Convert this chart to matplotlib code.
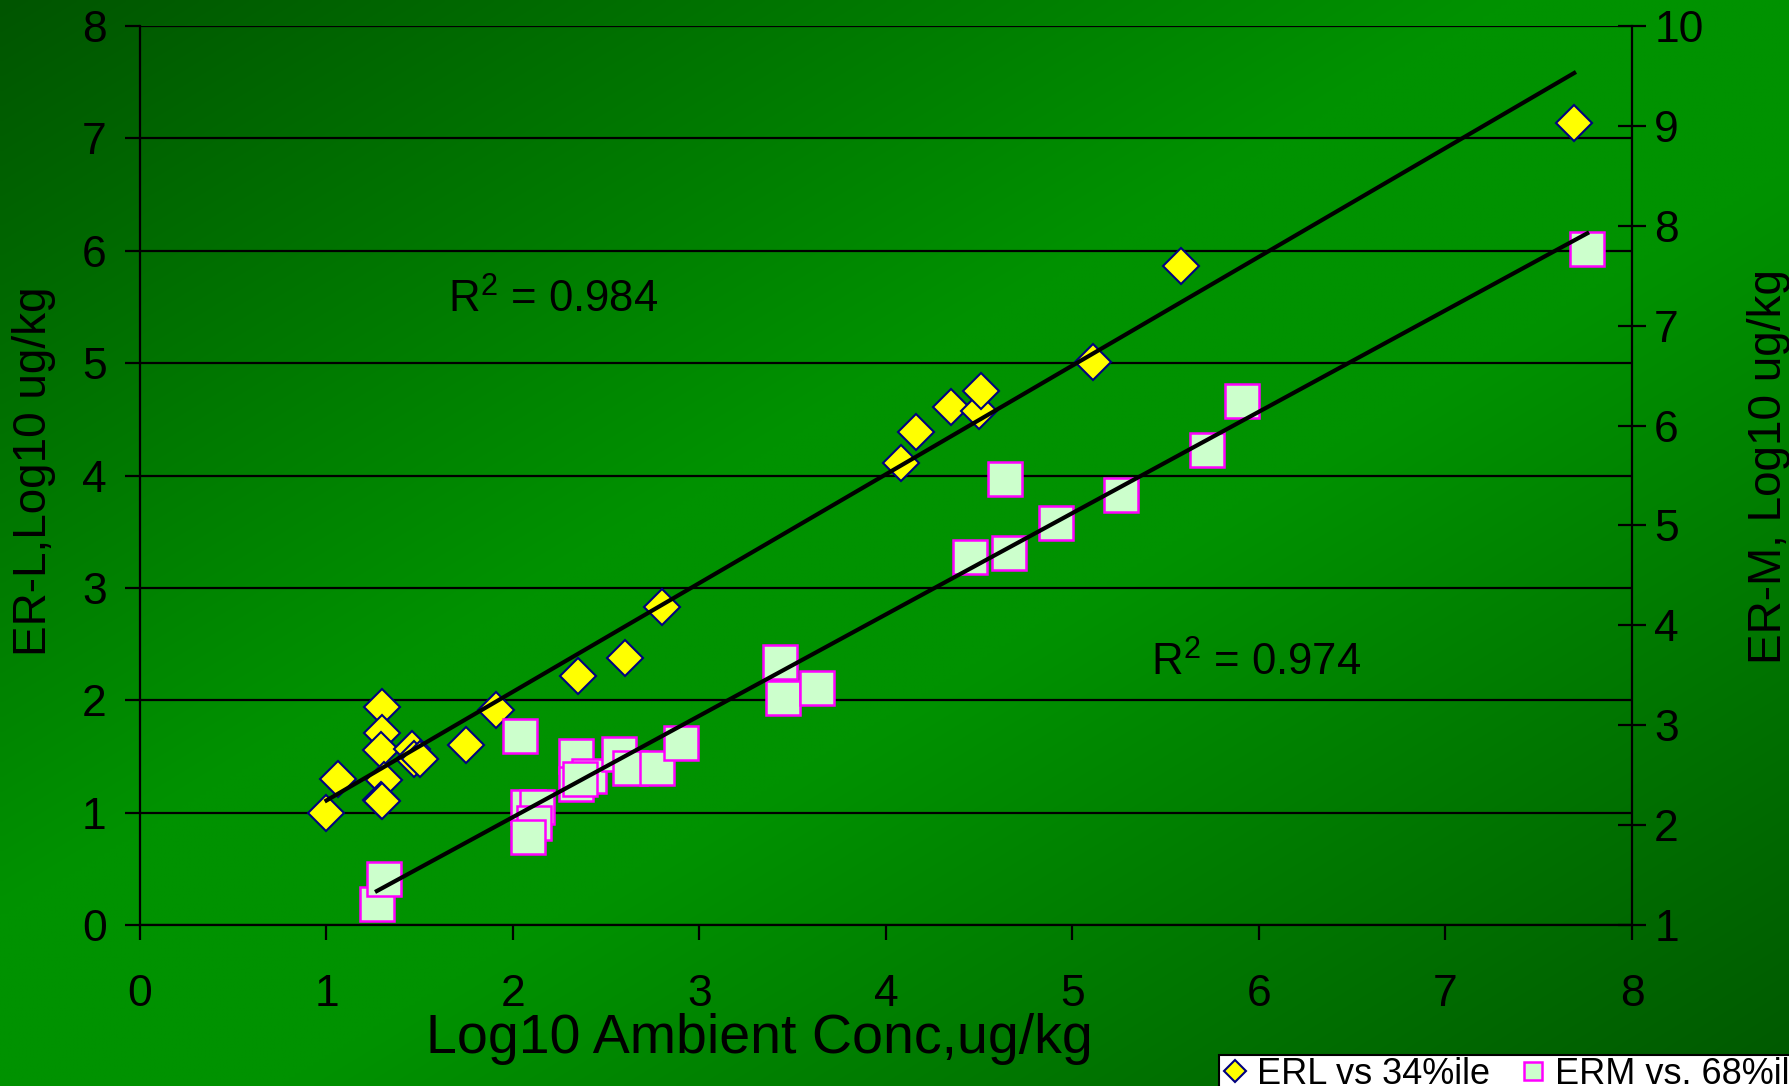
import numpy as np
import matplotlib
matplotlib.use("Agg")
import matplotlib.pyplot as plt
from matplotlib.lines import Line2D

plt.rcParams['font.family'] = ['Liberation Sans', 'DejaVu Sans']
plt.rcParams['mathtext.default'] = 'regular'

# ---- data ----
erl_x = [1.00, 1.06, 1.30, 1.30, 1.29, 1.31, 1.29, 1.30, 1.46, 1.47, 1.50, 1.75,
         1.91, 2.35, 2.60, 2.80, 4.08, 4.16, 4.35, 4.50, 4.51, 5.11, 5.58, 7.69]
erl_y = [1.00, 1.30, 1.94, 1.71, 1.56, 1.29, 1.11, 1.10, 1.57, 1.48, 1.48, 1.60,
         1.91, 2.22, 2.38, 2.83, 4.11, 4.39, 4.61, 4.57, 4.75, 5.01, 5.86, 7.14]

erm_x = [1.27, 1.31, 2.04, 2.08, 2.13, 2.11, 2.08, 2.34, 2.41, 2.34, 2.36, 2.57,
         2.63, 2.77, 2.90, 3.43, 3.45, 3.63, 4.45, 4.64, 4.66, 4.91, 5.26, 5.72,
         5.91, 7.76]
erm_y = [1.21, 1.46, 2.89, 2.18, 2.18, 2.02, 1.88, 2.69, 2.49, 2.41, 2.46, 2.71,
         2.57, 2.57, 2.82, 3.63, 3.27, 3.37, 4.68, 5.46, 4.72, 5.02, 5.30, 5.76,
         6.25, 7.77]

x_ticks = [0, 1, 2, 3, 4, 5, 6, 7, 8]
yl_ticks = [0, 1, 2, 3, 4, 5, 6, 7, 8]
yr_ticks = [1, 2, 3, 4, 5, 6, 7, 8, 9, 10]

r2_erl = "R$^{2}$ = 0.984"
r2_erm = "R$^{2}$ = 0.974"
legend_labels = ["ERL vs 34%ile", "ERM vs. 68%ile"]

W, H = 1790, 1086
fig = plt.figure(figsize=(W / 100, H / 100), dpi=100)

# background gradient
bg = fig.add_axes([0, 0, 1, 1], zorder=-10)
n = 300
u = np.linspace(0, 1, n)
U, V = np.meshgrid(u, u)
T = (U + V) / 2
g = np.interp(T, [0, 0.42, 0.58, 1.0], [0x55, 0x92, 0x92, 0x58]) / 255.0
img = np.zeros((n, n, 3))
img[..., 1] = g
bg.imshow(img, extent=[0, 1, 0, 1], aspect='auto', interpolation='bilinear')
bg.axis('off')

L, R, T0, B = 140, 1632, 26, 925
ax = fig.add_axes([L / W, 1 - B / H, (R - L) / W, (B - T0) / H])
ax.set_facecolor('none')
ax2 = ax.twinx()
ax2.set_facecolor('none')

ax.set_xlim(0, 8)
ax.set_ylim(0, 8)
ax2.set_ylim(1, 10)
ax.set_xticks(x_ticks)
ax.set_yticks(yl_ticks)
ax2.set_yticks(yr_ticks)

ax.grid(axis='y', color='black', lw=1.6)
ax.set_axisbelow(True)
for a in (ax, ax2):
    for s in a.spines.values():
        s.set_color('black')
        s.set_linewidth(1.6)
    a.spines['top'].set_visible(False)
ax.spines['right'].set_visible(False)
ax2.spines['left'].set_visible(False)
ax2.spines['bottom'].set_visible(False)

ax.tick_params(axis='both', direction='out', length=11, width=1.6,
               labelsize=32, colors='black')
ax.tick_params(axis='y', pad=13)
ax.tick_params(axis='x', pad=24)
ax2.tick_params(axis='y', direction='inout', length=20, width=1.6,
                labelsize=32, pad=6, colors='black')

# markers
ax.plot(erl_x, erl_y, ls='none', marker='D', ms=18, mfc='#FFFF00',
        mec='#000080', mew=1.5, zorder=3)
ax2.plot(erm_x, erm_y, ls='none', marker='s', ms=24.5, mfc='#CCFFCC',
         mec='#FF00FF', mew=1.8, zorder=3)

# trendlines (least squares fit)
c1 = np.polyfit(erl_x, erl_y, 1)
xx1 = np.array([min(erl_x), max(erl_x)])
ax.plot(xx1, np.polyval(c1, xx1), color='black', lw=3, zorder=5)
c2 = np.polyfit(erm_x, erm_y, 1)
xx2 = np.array([min(erm_x), max(erm_x)])
ax2.plot(xx2, np.polyval(c2, xx2), color='black', lw=3, zorder=5)

# R^2 labels
fig.text(448 / W, 1 - 313 / H, r2_erl, fontsize=31.5, ha='left', va='baseline')
fig.text(1151 / W, 1 - 676 / H, r2_erm, fontsize=31.5, ha='left', va='baseline')

# axis labels
fig.text(759 / W, 1 - 1053 / H, "Log10 Ambient Conc,ug/kg", fontsize=40,
         ha='center', va='baseline')
fig.text(34 / W, 1 - 471 / H, "ER-L,Log10 ug/kg", fontsize=33, rotation=90,
         ha='center', va='center')
fig.text(1769 / W, 1 - 466 / H, "ER-M, Log10 ug/kg", fontsize=33, rotation=90,
         ha='center', va='center')

# legend
h1 = Line2D([], [], ls='none', marker='D', ms=11, mfc='#FFFF00', mec='#000080', mew=1.5)
h2 = Line2D([], [], ls='none', marker='s', ms=13, mfc='#CCFFCC', mec='#FF00FF', mew=1.8)
leg = fig.legend([h1, h2], legend_labels, loc='upper left',
                 bbox_to_anchor=(1219 / W, 1 - 1055 / H), ncol=2, fontsize=26,
                 frameon=True, fancybox=False, framealpha=1, edgecolor='black',
                 borderpad=0.05, handlelength=0.8, handletextpad=0.2,
                 columnspacing=0.8, borderaxespad=0)
leg.get_frame().set_linewidth(1.5)

fig.savefig("out.png", dpi=100)
